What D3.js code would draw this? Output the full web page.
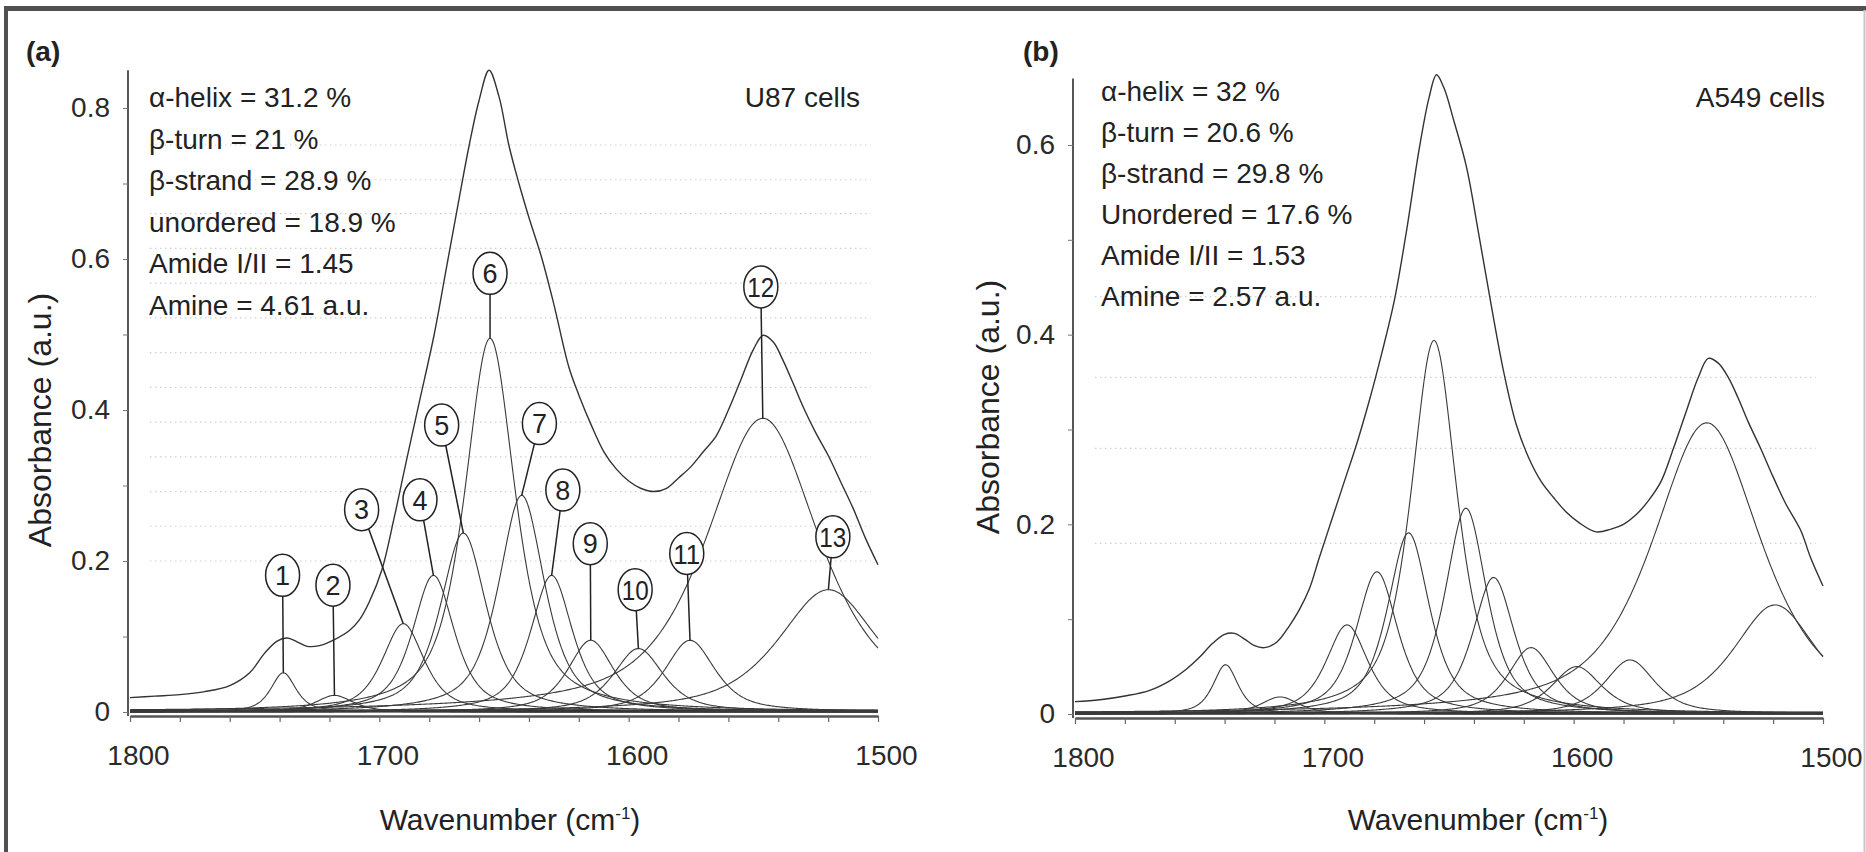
<!DOCTYPE html>
<html>
<head>
<meta charset="utf-8">
<script src="https://cdn.jsdelivr.net/npm/d3@7"></script>
<style>
  body { margin: 0; background: #fff; }
  text { font-family: "Liberation Sans", Arial, sans-serif; fill: #222; }
</style>
</head>
<body>
<svg id="chart" width="1866" height="852"></svg>
<script>
// ---- panel (a) U87 cells ----
var statsA = ['α-helix = 31.2 %', 'β-turn = 21 %', 'β-strand = 28.9 %', 'unordered = 18.9 %', 'Amide I/II = 1.45', 'Amine = 4.61 a.u.'];
var bandCentersA = [1738.5, 1718, 1690.4, 1678.3, 1666.3, 1655.6, 1642.9, 1630.9, 1615.2, 1596.1, 1575.4, 1546.2, 1519.9];
var bandHeightsA = [0.052, 0.022, 0.117, 0.181, 0.237, 0.495, 0.287, 0.181, 0.095, 0.084, 0.095, 0.389, 0.162];
var bandWidthsA  = [6, 9, 10, 10, 11, 12, 11, 10, 11, 12, 12, 27, 24];
var envWnA  = [1800, 1790, 1780, 1770, 1760, 1752, 1746, 1741, 1737, 1733, 1729, 1724, 1718, 1712, 1708,
               1704, 1699, 1694, 1689, 1684, 1678, 1673, 1668, 1664, 1660, 1656, 1652, 1648, 1644, 1640,
               1635, 1630, 1624, 1620, 1615, 1610, 1605, 1600, 1595, 1590, 1585, 1580, 1575, 1570, 1565,
               1560, 1555, 1550, 1546, 1542, 1538, 1534, 1530, 1525, 1520, 1515, 1510, 1505, 1500];
var envAbsA = [0.019, 0.021, 0.023, 0.027, 0.035, 0.052, 0.078, 0.094, 0.098, 0.093, 0.087, 0.088, 0.096, 0.108, 0.122,
               0.146, 0.188, 0.258, 0.335, 0.410, 0.500, 0.590, 0.680, 0.750, 0.810, 0.850, 0.815, 0.750, 0.700, 0.655,
               0.603, 0.540, 0.457, 0.420, 0.380, 0.345, 0.322, 0.306, 0.296, 0.292, 0.296, 0.310, 0.325, 0.345, 0.365,
               0.400, 0.440, 0.480, 0.499, 0.490, 0.465, 0.435, 0.404, 0.370, 0.340, 0.305, 0.270, 0.230, 0.195];
var labelWnA  = [1738.8, 1718.6, 1707.1, 1683.7, 1675, 1655.6, 1635.8, 1626.4, 1615.4, 1597.4, 1576.7, 1547, 1518.1];
var labelAbsA = [0.181, 0.168, 0.268, 0.281, 0.380, 0.581, 0.382, 0.294, 0.223, 0.162, 0.210, 0.563, 0.232];
var yTicksA = [0, 0.2, 0.4, 0.6, 0.8];
var dotRowsA = [0.2, 0.246, 0.292, 0.338, 0.384, 0.43, 0.476, 0.522, 0.568, 0.614, 0.66, 0.705, 0.751];

// ---- panel (b) A549 cells ----
var statsB = ['α-helix = 32 %', 'β-turn = 20.6 %', 'β-strand = 29.8 %', 'Unordered = 17.6 %', 'Amide I/II = 1.53', 'Amine = 2.57 a.u.'];
var bandCentersB = [1739.6, 1717.8, 1690.9, 1678.9, 1666.2, 1656, 1643.2, 1632.1, 1617.1, 1598.8, 1577.4, 1546.6, 1519.2];
var bandHeightsB = [0.052, 0.018, 0.094, 0.15, 0.191, 0.394, 0.217, 0.144, 0.07, 0.05, 0.057, 0.307, 0.115];
var bandWidthsB  = [6, 9, 10, 10, 10, 11, 10, 10, 11, 12, 12, 26, 20];
var envWnB  = [1800, 1790, 1780, 1770, 1762, 1755, 1750, 1745, 1740, 1736, 1732, 1728, 1724, 1719, 1714,
               1710, 1706, 1702, 1697, 1692, 1687, 1682, 1677, 1672, 1667, 1662, 1658, 1655, 1652, 1648,
               1643, 1638, 1633, 1628, 1623, 1618, 1613, 1608, 1603, 1598, 1591, 1585, 1580, 1575, 1570,
               1565, 1560, 1555, 1550, 1546, 1542, 1538, 1534, 1530, 1525, 1520, 1515, 1509, 1505, 1500];
var envAbsB = [0.013, 0.015, 0.019, 0.025, 0.035, 0.048, 0.060, 0.074, 0.084, 0.085, 0.079, 0.072, 0.070, 0.076, 0.093,
               0.110, 0.132, 0.165, 0.205, 0.245, 0.285, 0.330, 0.380, 0.435, 0.510, 0.595, 0.650, 0.674, 0.660, 0.625,
               0.577, 0.505, 0.430, 0.360, 0.305, 0.270, 0.245, 0.228, 0.213, 0.202, 0.192, 0.195, 0.200, 0.210, 0.225,
               0.245, 0.280, 0.318, 0.355, 0.375, 0.370, 0.355, 0.333, 0.308, 0.280, 0.250, 0.222, 0.194, 0.165, 0.135];
var yTicksB = [0, 0.2, 0.4, 0.6];
var dotRowsB = [0.18, 0.28, 0.355, 0.44];

var xTickLabels = [1800, 1700, 1600, 1500];

var svg = d3.select('#chart');

// outer frame
svg.append('line').attr('x1', 4).attr('x2', 1866).attr('y1', 8.5).attr('y2', 8.5)
  .style('stroke', '#505050').style('stroke-width', 5);
svg.append('line').attr('x1', 6).attr('x2', 6).attr('y1', 6).attr('y2', 852)
  .style('stroke', '#505050').style('stroke-width', 4);
svg.append('line').attr('x1', 1864.5).attr('x2', 1864.5).attr('y1', 10).attr('y2', 852)
  .style('stroke', '#c8c8c8').style('stroke-width', 2);

var panels = [
  { tag: '(a)', tagX: 26, cells: 'U87 cells', cellsX: 860,
    x0: 130, x1: 878, y0: 712, yTop: 70.25, yMax: 0.85,
    centers: bandCentersA, heights: bandHeightsA, widths: bandWidthsA,
    envWn: envWnA, envAbs: envAbsA, stats: statsA, statX: 149, statY: 107, statStep: 41.6,
    yTicks: yTicksA, dots: dotRowsA, yTitle: [40, 420], xTitleX: 510,
    labelWn: labelWnA, labelAbs: labelAbsA },
  { tag: '(b)', tagX: 1023, cells: 'A549 cells', cellsX: 1825,
    x0: 1075, x1: 1823, y0: 714, yTop: 78.6, yMax: 0.67,
    centers: bandCentersB, heights: bandHeightsB, widths: bandWidthsB,
    envWn: envWnB, envAbs: envAbsB, stats: statsB, statX: 1101, statY: 101, statStep: 41,
    yTicks: yTicksB, dots: dotRowsB, yTitle: [988, 407], xTitleX: 1478,
    labelWn: null, labelAbs: null }
];

// fitted band shape (mixed Lorentz / Gauss)
function band(c, h, w) {
  return function(v) {
    var u = (v - c) / w;
    return h * (0.7 / (1 + u * u) + 0.3 * Math.exp(-Math.LN2 * u * u));
  };
}

var grid = d3.range(1800, 1499.9, -0.5);

panels.forEach(function(p) {
  var x = d3.scaleLinear().domain([1800, 1500]).range([p.x0, p.x1]);
  var y = d3.scaleLinear().domain([0, p.yMax]).range([p.y0, p.yTop]);
  var g = svg.append('g');

  // faint dotted rows of the scan
  g.selectAll('line.dot').data(p.dots)
    .enter().append('line')
      .attr('class', 'dot')
      .attr('x1', x(1792)).attr('x2', x(1503))
      .attr('y1', y).attr('y2', y)
      .style('stroke', '#cfcfcf').style('stroke-width', 1.2)
      .style('stroke-dasharray', '1.5,3.5');

  // zero level band
  g.append('line')
    .attr('x1', p.x0).attr('x2', p.x1).attr('y1', y(0) - 1).attr('y2', y(0) - 1)
    .style('stroke', '#111').style('stroke-width', 3);

  // x axis
  var xAxis = d3.axisBottom(x)
    .tickValues(d3.range(1800, 1499, -20))
    .tickSize(6).tickSizeOuter(0).tickPadding(23)
    .tickFormat(function(d) { return xTickLabels.indexOf(d) >= 0 ? d : ''; });
  var gx = g.append('g').attr('transform', 'translate(0,' + (p.y0 + 4) + ')').call(xAxis);
  gx.select('.domain').style('stroke', '#555').style('stroke-width', 2.5);
  gx.selectAll('.tick line').style('stroke', '#666').style('stroke-width', 1.2);
  gx.selectAll('.tick text').attr('dx', 8).style('font-size', '28px').style('fill', '#2a2a2a')
    .style('font-family', '"Liberation Sans", Arial, sans-serif');

  // y axis
  var yAxis = d3.axisLeft(y)
    .tickValues(d3.range(0, Math.round(p.yMax * 10) + 1).map(function(i) { return i / 10; }).filter(function(d) { return d <= p.yMax; }))
    .tickSize(5).tickSizeOuter(0).tickPadding(13)
    .tickFormat(function(d) {
      var hit = p.yTicks.filter(function(t) { return Math.abs(t - d) < 1e-6; });
      return hit.length ? (d === 0 ? '0' : d.toFixed(1)) : '';
    });
  var gy = g.append('g').attr('transform', 'translate(' + (p.x0 - 2) + ',0)').call(yAxis);
  gy.select('.domain').attr('d', 'M0,' + (p.y0 + 4) + 'V' + p.yTop)
    .style('stroke', '#444').style('stroke-width', 1.8);
  gy.selectAll('.tick line').style('stroke', '#777');
  gy.selectAll('.tick text').style('font-size', '28px').style('fill', '#2a2a2a')
    .style('font-family', '"Liberation Sans", Arial, sans-serif');

  // band components
  var line = d3.line()
    .x(function(d) { return x(d[0]); })
    .y(function(d) { return y(d[1]); });
  p.centers.forEach(function(c, i) {
    var f = band(c, p.heights[i], p.widths[i]);
    g.append('path')
      .datum(grid.map(function(v) { return [v, f(v)]; }))
      .attr('d', line)
      .style('fill', 'none').style('stroke', '#3a3a3a').style('stroke-width', 1.1);
  });

  // measured envelope
  var envLine = d3.line()
    .x(function(d) { return x(d[0]); })
    .y(function(d) { return y(d[1]); })
    .curve(d3.curveCatmullRom.alpha(0.5));
  g.append('path')
    .datum(d3.zip(p.envWn, p.envAbs))
    .attr('d', envLine)
    .style('fill', 'none').style('stroke', '#333').style('stroke-width', 1.4);

  // numbered band labels
  if (p.labelWn) {
    var rx = 17, ry = 21;
    p.labelWn.forEach(function(wn, i) {
      var cx = x(wn), cy = y(p.labelAbs[i]);
      var tx = x(p.centers[i]), ty = y(p.heights[i]);
      var dx = tx - cx, dy = ty - cy;
      var t = 1 / Math.sqrt((dx / rx) * (dx / rx) + (dy / ry) * (dy / ry));
      g.append('line')
        .attr('x1', cx + t * dx).attr('y1', cy + t * dy)
        .attr('x2', tx).attr('y2', ty)
        .style('stroke', '#222').style('stroke-width', 1.5);
      g.append('ellipse')
        .attr('cx', cx).attr('cy', cy).attr('rx', rx).attr('ry', ry)
        .style('fill', '#fff').style('stroke', '#222').style('stroke-width', 1.5);
      var lbl = String(i + 1);
      var txt = g.append('text')
        .attr('x', cx).attr('y', cy).attr('dy', '0.36em')
        .attr('text-anchor', 'middle')
        .style('font-size', lbl.length > 1 ? '28px' : '27px')
        .text(lbl);
      if (lbl.length > 1) txt.attr('textLength', 27).attr('lengthAdjust', 'spacingAndGlyphs');
    });
  }

  // texts
  g.append('text').attr('x', p.tagX).attr('y', 61)
    .style('font-size', '28px').style('font-weight', 'bold').text(p.tag);
  g.append('text').attr('x', p.cellsX).attr('y', 107).attr('text-anchor', 'end')
    .style('font-size', '28px').text(p.cells);
  g.selectAll('text.stat').data(p.stats)
    .enter().append('text')
      .attr('class', 'stat')
      .attr('x', p.statX)
      .attr('y', function(d, i) { return p.statY + i * p.statStep; })
      .style('font-size', '28px')
      .text(function(d) { return d; });

  g.append('text')
    .attr('transform', 'translate(' + p.yTitle[0] + ',' + p.yTitle[1] + ') rotate(-90)')
    .attr('text-anchor', 'middle').attr('dy', '0.35em')
    .style('font-size', '32px')
    .text('Absorbance (a.u.)');

  var xt = g.append('text').attr('x', p.xTitleX).attr('y', 830)
    .attr('text-anchor', 'middle').style('font-size', '30px');
  xt.append('tspan').text('Wavenumber (cm');
  xt.append('tspan').attr('dy', -11).style('font-size', '17px').text('-1');
  xt.append('tspan').attr('dy', 11).text(')');
});
</script>
</body>
</html>
